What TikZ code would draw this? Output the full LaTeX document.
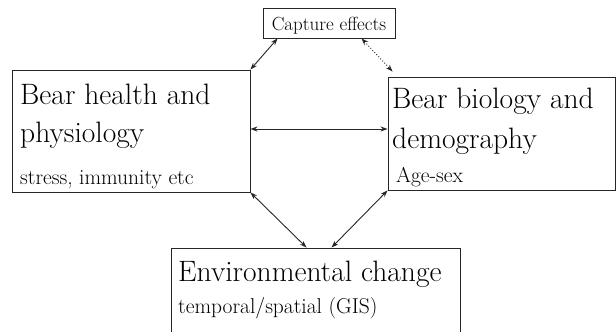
\documentclass[tikz,border=0pt]{standalone}
\usetikzlibrary{arrows.meta,calc}
\begin{document}
\begin{tikzpicture}[x=1pt,y=-1pt,
  box/.style={draw=black!85,line width=0.9pt,inner sep=0},
  big/.style={anchor=base west,inner sep=0,font=\fontsize{29.5}{36}\selectfont},
  small/.style={anchor=base west,inner sep=0,font=\fontsize{21.5}{26}\selectfont},
  link/.style={draw=black!85,line width=0.9pt,{Stealth[length=7pt,width=5pt]}-{Stealth[length=7pt,width=5pt]}},
  dlink/.style={link,dotted}]
\useasboundingbox (0,0) rectangle (616,332);
\clip (0,0) rectangle (616,332);
% boxes
\node[box,minimum width=132pt,minimum height=30pt] (cap) at (329,23) {};
\node[anchor=base,inner sep=0,font=\fontsize{19}{22}\selectfont] (captxt) at (329,30) {Capture effects};

\node[box,minimum width=238pt,minimum height=122pt] (hl) at (131,131) {};
\node[big] (hl1) at (20,104) {Bear health and};
\node[big] (hl2) at (20,142) {physiology};
\node[small] (hl3) at (20,184) {stress, immunity etc};

\node[box,minimum width=227pt,minimum height=113pt] (bb) at (501.5,133.5) {};
\node[big] (bb1) at (392,108) {Bear biology and};
\node[big] (bb2) at (392,148) {demography};
\node[small] (bb3) at (396,182) {Age-sex};

\node[box,minimum width=289pt,minimum height=100pt] (env) at (315.5,298) {};
\node[big] (env1) at (178,281) {Environmental change};
\node[small] (env2) at (178,313) {temporal/spatial (GIS)};

% connectors
\draw[link] ($(cap.south west)+(15,0)$) -- (hl.north east);
\draw[dlink] ($(cap.south west)+(99,0)$) -- ($(bb.north west)+(5,-5)$);
\draw[link] ($(hl.east)+(0,-2)$) -- ($(bb.west)+(0,-4.5)$);
\draw[link] (hl.south east) -- ($(env.north west)+(136,0)$);
\draw[link] (bb.south west) -- ($(env.north west)+(161,0)$);
\end{tikzpicture}
\end{document}
